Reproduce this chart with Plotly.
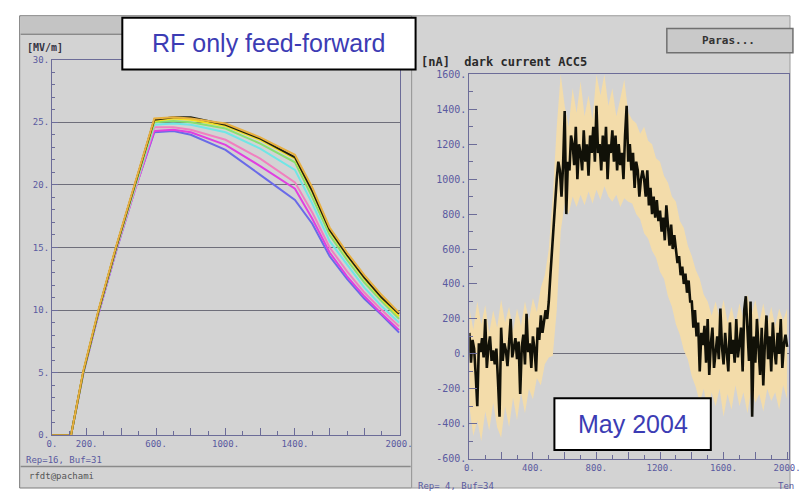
import plotly.graph_objects as go

W, H = 803, 494


def px(x):
    return x / W


def py(y):
    return 1 - y / H


# ---------------- left panel: gradient traces, RF feed-forward only ----------------
ff_time = [0, 110, 180, 270, 370, 480, 590, 700, 800, 1000, 1200, 1400, 1500, 1600, 1700, 1800, 1900, 2000]
grad_blue = [0, 0, 4.9, 9.8, 14.7, 19.7, 24.2, 24.3, 24.0, 22.8, 20.8, 18.8, 16.9, 14.3, 12.5, 10.9, 9.6, 8.2]
grad_magenta = [0, 0, 4.9, 9.8, 14.8, 19.7, 24.3, 24.4, 24.2, 23.2, 21.5, 19.7, 17.3, 14.6, 12.7, 11.1, 9.7, 8.4]
grad_pink = [0, 0, 4.9, 9.9, 14.8, 19.8, 24.6, 24.6, 24.4, 23.6, 22.1, 20.2, 17.8, 15.0, 13.1, 11.4, 10.0, 8.7]
grad_cyan = [0, 0, 4.9, 9.9, 14.9, 19.9, 24.8, 24.9, 24.8, 24.2, 22.9, 21.2, 18.5, 15.5, 13.6, 11.8, 10.3, 9.0]
grad_green = [0, 0, 5.0, 10.0, 15.0, 20.0, 25.0, 25.1, 25.0, 24.5, 23.3, 21.8, 19.0, 16.0, 14.0, 12.2, 10.7, 9.3]
grad_yellow = [0, 0, 5.0, 10.0, 15.0, 20.1, 25.1, 25.3, 25.2, 24.7, 23.6, 22.1, 19.4, 16.3, 14.3, 12.5, 10.9, 9.5]
grad_black = [0, 0, 5.0, 10.0, 15.0, 20.1, 25.2, 25.4, 25.4, 24.8, 23.7, 22.2, 19.5, 16.4, 14.4, 12.6, 11.0, 9.7]
grad_orange = [0, 0, 5.1, 10.1, 15.1, 20.2, 25.3, 25.4, 25.3, 24.9, 23.8, 22.4, 19.8, 16.6, 14.6, 12.8, 11.2, 9.8]

grad_x_ticks = [0, 200, 400, 600, 800, 1000, 1200, 1400, 1600, 1800, 2000]
grad_x_labels = ["0.", "200.", "", "600.", "", "1000.", "", "1400.", "", "", "2000."]
grad_y_ticks = [0, 5, 10, 15, 20, 25, 30]
grad_y_labels = ["0.", "5.", "10.", "15.", "20.", "25.", "30."]

# ---------------- right panel: dark current ACC5 ----------------
dc_time = list(range(0, 2001, 10))
dc_current = [
    120, -50, 80, 30, -120, -300, 60, 10, 90, -20,
    200, -80, 40, 100, -40, 20, -60, 30, -150, -360,
    150, -40, 60, 20, -70, 80, 200, -20, 50, 90,
    -30, 70, -230, 40, 110, -60, 230, 10, 60, -80,
    100, 30, -100, 150, 80, 220, 120, 180, 250, 200,
    300, 450, 600, 750, 900, 1000, 1100, 1050, 900, 1080,
    1390, 800, 1100, 1050, 1250, 1200, 1080, 1300, 1000, 1200,
    1150, 1050, 1280, 1100, 1200, 1020, 1250, 1150, 1300, 1100,
    1420, 1150, 1200, 1050, 1250, 1100, 1300, 1000, 1200, 1150,
    1280, 1100, 1250, 1050, 1200, 1080, 1150, 1000, 1250, 1420,
    1100, 1200, 1050, 1150, 950, 1100, 1050, 900, 1000, 1050,
    1000, 900, 1050, 850, 950, 800, 900, 780, 880, 760,
    820, 700, 780, 650, 850, 700, 620, 740, 600, 680,
    600, 520, 560, 450, 500, 400, 460, 350, 420, 300,
    300, 150, 250, 100, 180, -100, 120, 50, 160, -50,
    200, -120, 60, 150, -80, 30, 100, -30, 260, 40,
    -60, 120, 20, -100, 180, 0, 80, -50, 200, -20,
    60, 150, -100, 250, 330, 90, -40, 300, -360, 100,
    -50, 200, 40, -120, 150, -180, 60, 220, -30, 100,
    -100, 180, 20, -60, 120, 0, 200, -80, 60, 110,
    40,
]

band_time = list(range(0, 2001, 25))
band_upper = [
    260, 140, 300, 170, 280, 120, 250, 150, 310, 180,
    270, 130, 260, 160, 300, 190, 320, 240, 380, 450,
    600, 900, 1300, 1600, 1420, 1300, 1520, 1380, 1560, 1360,
    1480, 1340, 1600, 1480, 1600, 1420, 1520, 1360, 1460, 1570,
    1380, 1340, 1320, 1260, 1300, 1220, 1200, 1120, 1100, 1020,
    980, 900, 870, 760, 720, 620, 560, 480, 430, 340,
    300, 220, 300, 200, 310, 180, 270, 170, 290, 200,
    340, 220, 310, 180, 290, 170, 270, 160, 260, 190,
    260,
]
band_lower = [
    -300, -470, -380, -500, -330, -440, -280, -420, -480, -300,
    -420, -250, -380, -220, -340, -200, -260, -140, -180, -60,
    -20, -10, 250, 700, 860, 800, 900, 840, 910, 850,
    930, 860, 940, 880, 960, 900, 870, 910, 840, 890,
    870, 860, 800, 770, 690, 660, 590, 550, 470, 430,
    330, 270, 170, 110, 20, -30, -130, -190, -280, -200,
    -330, -220, -300, -200, -360, -230, -320, -180, -300, -220,
    -340, -200, -280, -230, -330, -200, -270, -220, -320, -180,
    -260,
]

dc_x_ticks = [0, 200, 400, 600, 800, 1000, 1200, 1400, 1600, 1800, 2000]
dc_x_labels = ["0.", "", "400.", "", "800.", "", "1200.", "", "1600.", "", "2000."]
dc_y_ticks = [-600, -400, -200, 0, 200, 400, 600, 800, 1000, 1200, 1400, 1600]
dc_y_labels = ["-600.", "-400.", "-200.", "0.", "200.", "400.", "600.", "800.",
               "1000.", "1200.", "1400.", "1600."]

GRAY = "#d3d3d3"
TICKCOL = "#5a5aa0"
MONO = "DejaVu Sans Mono"

fig = go.Figure()

grad_series = [
    (grad_blue, "#6a6ae8"),
    (grad_magenta, "#e040e0"),
    (grad_pink, "#f080c0"),
    (grad_cyan, "#70e6e6"),
    (grad_green, "#88e070"),
    (grad_yellow, "#f0e020"),
    (grad_black, "#202010"),
    (grad_orange, "#e8b040"),
]
for vals, col in grad_series:
    fig.add_trace(go.Scatter(x=ff_time, y=vals, mode="lines",
                             line=dict(color=col, width=2),
                             xaxis="x", yaxis="y", showlegend=False,
                             hoverinfo="skip"))

# spread of the individual pulses
fig.add_trace(go.Scatter(x=band_time, y=band_upper, mode="lines",
                         line=dict(color="rgba(0,0,0,0)", width=0),
                         xaxis="x2", yaxis="y2", showlegend=False, hoverinfo="skip"))
fig.add_trace(go.Scatter(x=band_time, y=band_lower, mode="lines",
                         line=dict(color="rgba(0,0,0,0)", width=0),
                         fill="tonexty", fillcolor="#f3dcaa",
                         xaxis="x2", yaxis="y2", showlegend=False, hoverinfo="skip"))
# averaged dark current
fig.add_trace(go.Scatter(x=dc_time, y=dc_current, mode="lines",
                         line=dict(color="#111108", width=2.6),
                         xaxis="x2", yaxis="y2", showlegend=False, hoverinfo="skip"))

shapes = [
    # window backgrounds
    dict(type="rect", xref="paper", yref="paper", x0=px(15), x1=px(416), y0=py(494), y1=py(10),
         fillcolor=GRAY, line=dict(color="#7a7a7a", width=1), layer="below"),
    dict(type="rect", xref="paper", yref="paper", x0=px(16), x1=px(415), y0=py(28), y1=py(11),
         fillcolor="#c4c4c4", line=dict(width=0), layer="below"),
    dict(type="line", xref="paper", yref="paper", x0=px(16), x1=px(415), y0=py(29), y1=py(29),
         line=dict(color="#8a8a8a", width=1.5), layer="below"),
    dict(type="line", xref="paper", yref="paper", x0=px(16), x1=px(415), y0=py(472), y1=py(472),
         line=dict(color="#8a8a8a", width=1.5), layer="below"),
    dict(type="rect", xref="paper", yref="paper", x0=px(416), x1=px(803), y0=py(494), y1=py(10),
         fillcolor=GRAY, line=dict(color="#9a9a9a", width=1), layer="below"),
    # Paras button
    dict(type="rect", xref="paper", yref="paper", x0=px(677), x1=px(806), y0=py(48), y1=py(23),
         fillcolor="#c9c9c9", line=dict(color="#707070", width=1.5), layer="below"),
    # label boxes
    dict(type="rect", xref="paper", yref="paper", x0=px(120), x1=px(420), y0=py(65), y1=py(12),
         fillcolor="white", line=dict(color="black", width=2)),
    dict(type="rect", xref="paper", yref="paper", x0=px(562), x1=px(722), y0=py(455), y1=py(402),
         fillcolor="white", line=dict(color="black", width=2)),
]


def txt(x, y, s, size, color, family=MONO, xanchor="left", weight="normal"):
    return dict(x=px(x), y=py(y), xref="paper", yref="paper", text=s, showarrow=False,
                xanchor=xanchor, yanchor="middle",
                font=dict(family=family, size=size, color=color, weight=weight))


annotations = [
    txt(270, 38, "RF only feed-forward", 25, "#3c3cb4", family="Liberation Sans", xanchor="center"),
    txt(642, 428, "May 2004", 25, "#3c3cb4", family="Liberation Sans", xanchor="center"),
    txt(20, 43, "[MV/m]", 10, "#333344", weight="bold"),
    txt(19, 465, "Rep=16, Buf=31", 9, TICKCOL),
    txt(22, 482, "rfdt@pachami", 9, "#555555"),
    txt(424, 57, "[nA]  dark current ACC5", 12, "#2a2a2a", weight="bold"),
    txt(740, 35, "Paras...", 11, "#333333", xanchor="center", weight="bold"),
    txt(420, 492, "Rep= 4, Buf=34", 9, TICKCOL),
    txt(789, 492, "Ten", 9, TICKCOL),
]

axis_common = dict(showline=True, linecolor="#6c6c98", linewidth=1, mirror=True,
                   ticks="inside", tickcolor="#6c6c98", tickmode="array",
                   fixedrange=True)

fig.update_layout(
    width=W, height=H,
    margin=dict(l=0, r=0, t=0, b=0),
    paper_bgcolor="white",
    plot_bgcolor="rgba(0,0,0,0)",
    showlegend=False,
    shapes=shapes,
    annotations=annotations,
    xaxis=dict(domain=[px(48), px(404)], range=[0, 2005], anchor="y",
               tickvals=grad_x_ticks, ticktext=grad_x_labels, ticklen=7,
               minor=dict(dtick=100, ticklen=4, ticks="inside", tickcolor="#6c6c98"),
               tickfont=dict(family=MONO, size=9, color=TICKCOL),
               showgrid=False, zeroline=False, **axis_common),
    yaxis=dict(domain=[py(440), py(55)], range=[0, 30], anchor="x",
               tickvals=grad_y_ticks, ticktext=grad_y_labels, ticklen=6,
               minor=dict(dtick=1, ticklen=3, ticks="inside", tickcolor="#6c6c98"),
               tickfont=dict(family=MONO, size=9, color=TICKCOL),
               showgrid=True, gridcolor="#6e6e7a", gridwidth=1, zeroline=False, **axis_common),
    xaxis2=dict(domain=[px(475), px(802)], range=[0, 2012], anchor="y2",
                tickvals=dc_x_ticks, ticktext=dc_x_labels, ticklen=7,
                minor=dict(dtick=100, ticklen=4, ticks="inside", tickcolor="#6c6c98"),
                tickfont=dict(family=MONO, size=9, color=TICKCOL),
                showgrid=False, zeroline=False, **axis_common),
    yaxis2=dict(domain=[py(464), py(70)], range=[-600, 1600], anchor="x2",
                tickvals=dc_y_ticks, ticktext=dc_y_labels, ticklen=8,
                minor=dict(dtick=100, ticklen=4, ticks="inside", tickcolor="#6c6c98"),
                tickfont=dict(family=MONO, size=10, color=TICKCOL),
                showgrid=False, zeroline=True, zerolinecolor="#6e6e7a", zerolinewidth=1,
                **axis_common),
)

fig.write_html("out.html", config={"displayModeBar": False})
